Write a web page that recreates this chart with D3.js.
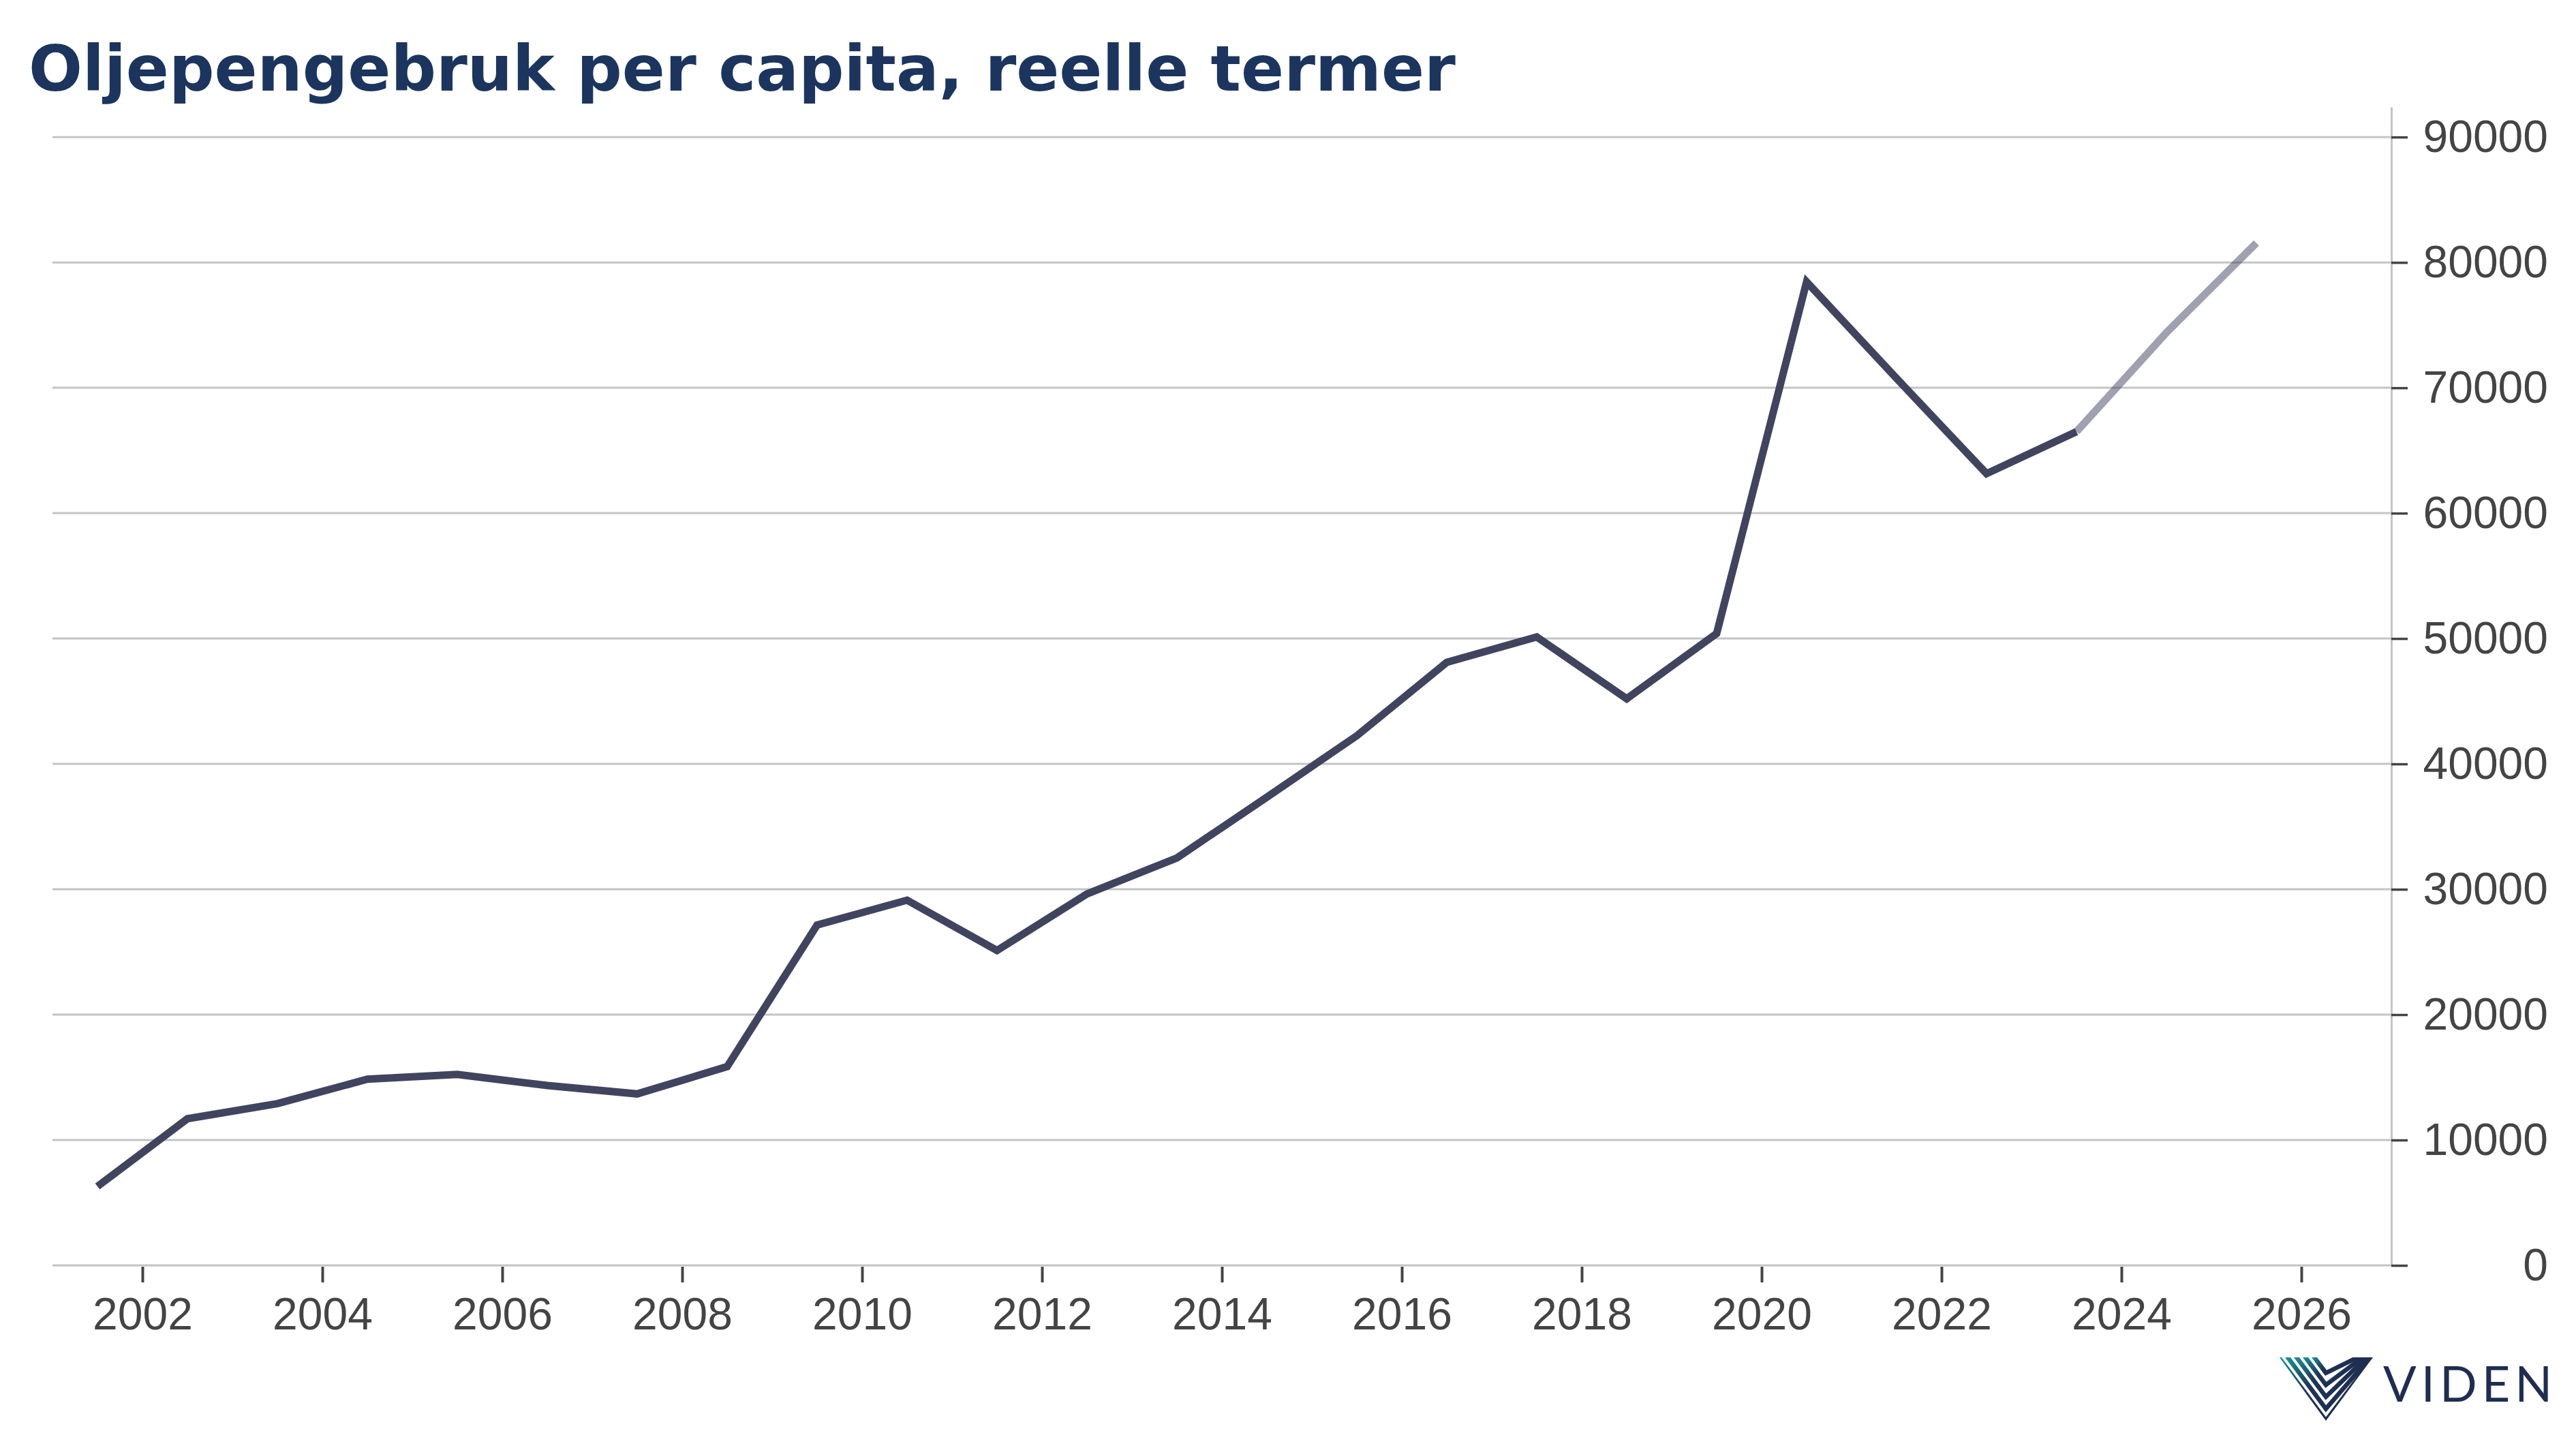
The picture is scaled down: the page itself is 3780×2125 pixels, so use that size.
<!DOCTYPE html>
<html>
<head>
<meta charset="utf-8">
<script src="https://cdn.jsdelivr.net/npm/d3@7"></script>
<style>
  body { margin: 0; background: #fff; }
  svg { display: block; }
</style>
</head>
<body>
<svg width="3780" height="2125"></svg>
<script>
// data (values sit mid-year)
let years = [2001, 2002, 2003, 2004, 2005, 2006, 2007, 2008, 2009, 2010, 2011, 2012, 2013,
             2014, 2015, 2016, 2017, 2018, 2019, 2020, 2021, 2022, 2023, 2024, 2025];
let values = [6300, 11700, 12900, 14850, 15230, 14350, 13680, 15850, 27150, 29130, 25120, 29630, 32500,
              37350, 42250, 48100, 50130, 45200, 50400, 78450, 70750, 63150, 66500, 74400, 81550];
let forecastFrom = 2023;   // grey part starts here
let xTicks = [2002, 2004, 2006, 2008, 2010, 2012, 2014, 2016, 2018, 2020, 2022, 2024, 2026];
let yTicks = [0, 10000, 20000, 30000, 40000, 50000, 60000, 70000, 80000, 90000];

let title = "Oljepengebruk per capita, reelle termer";

let svg = d3.select("svg");
let pLeft = 77, pRight = 3509, pTop = 157, pBottom = 1857;

let x = d3.scaleLinear().domain([2001, 2027]).range([pLeft, pRight]);
let y = d3.scaleLinear().domain([0, 92400]).range([pBottom, pTop]);

let lineColor = "#41445f", txt = "#444444", gridColor = "#c4c4c4";

// title
svg.append("text")
  .attr("x", 42).attr("y", 133)
  .attr("font-family", "DejaVu Sans").attr("font-weight", "bold")
  .attr("font-size", 93).attr("fill", "#1c355e")
  .text(title);

// gridlines
svg.append("g").selectAll("line")
  .data(yTicks.filter(d => d > 0))
  .enter().append("line")
  .attr("x1", pLeft).attr("x2", pRight)
  .attr("y1", d => y(d)).attr("y2", d => y(d))
  .attr("stroke", gridColor).attr("stroke-width", 3);

// bottom axis
let xAxis = svg.append("g")
  .attr("transform", "translate(0," + pBottom + ")")
  .call(d3.axisBottom(x).tickValues(xTicks).tickFormat(d3.format("d"))
        .tickSize(25).tickPadding(22).tickSizeOuter(0));
xAxis.select(".domain").attr("stroke", gridColor).attr("stroke-width", 3)
  .attr("d", "M" + pLeft + ",0H" + pRight);
xAxis.selectAll(".tick line").attr("stroke", txt).attr("stroke-width", 4)
  .attr("y1", 2);
xAxis.selectAll(".tick text").attr("fill", txt)
  .attr("font-family", "Liberation Sans, Arial, sans-serif").attr("font-size", 66);

// right axis
let yAxis = svg.append("g")
  .attr("transform", "translate(" + pRight + ",0)")
  .call(d3.axisRight(y).tickValues(yTicks).tickFormat(d3.format("d"))
        .tickSize(24).tickPadding(0).tickSizeOuter(0));
yAxis.select(".domain").attr("stroke", gridColor).attr("stroke-width", 3);
yAxis.selectAll(".tick line").attr("stroke", txt).attr("stroke-width", 3.5);
yAxis.selectAll(".tick text").attr("fill", txt)
  .attr("text-anchor", "end").attr("x", 230)
  .attr("font-family", "Liberation Sans, Arial, sans-serif").attr("font-size", 66);

// the line
let pts = years.map((yr, i) => ({ yr: yr, v: values[i] }));
let line = d3.line().x(d => x(d.yr + 0.5)).y(d => y(d.v));

svg.append("path")
  .datum(pts.filter(d => d.yr <= forecastFrom))
  .attr("d", line).attr("fill", "none")
  .attr("stroke", lineColor).attr("stroke-width", 11)
  .attr("stroke-linejoin", "miter");

svg.append("path")
  .datum(pts.filter(d => d.yr >= forecastFrom))
  .attr("d", line).attr("fill", "none")
  .attr("stroke", lineColor).attr("stroke-opacity", 0.5).attr("stroke-width", 11)
  .attr("stroke-linejoin", "miter");

// logo
let logo = svg.append("g").attr("transform", "translate(3345,1992)");
let defs = svg.append("defs");
let grad = defs.append("linearGradient").attr("id", "lg")
  .attr("x1", 0).attr("y1", 0).attr("x2", 1).attr("y2", 0.4);
grad.append("stop").attr("offset", "0%").attr("stop-color", "#1a9a9a");
grad.append("stop").attr("offset", "45%").attr("stop-color", "#1e3356");
grad.append("stop").attr("offset", "100%").attr("stop-color", "#1e2d50");
defs.append("clipPath").attr("id", "tri")
  .append("path").attr("d", "M0,0H137L68,93Z");
let chevrons = [0, 1, 2, 3, 4];
logo.append("g").attr("clip-path", "url(#tri)").selectAll("path")
  .data(chevrons).enter().append("path")
  .attr("d", k => {
    let o = k * 13;
    return "M" + (o - 4) + ",-4L68," + (93 - o * 1.35) + "L" + (141 - o * 0.35) + ",-4";
  })
  .attr("fill", "none").attr("stroke", "url(#lg)").attr("stroke-width", 6.5);
logo.append("text")
  .attr("x", 152).attr("y", 65)
  .attr("font-family", "Lato, sans-serif").attr("font-size", 72)
  .attr("letter-spacing", 7).attr("fill", "#1e2d50")
  .text("VIDEN");
</script>
</body>
</html>
